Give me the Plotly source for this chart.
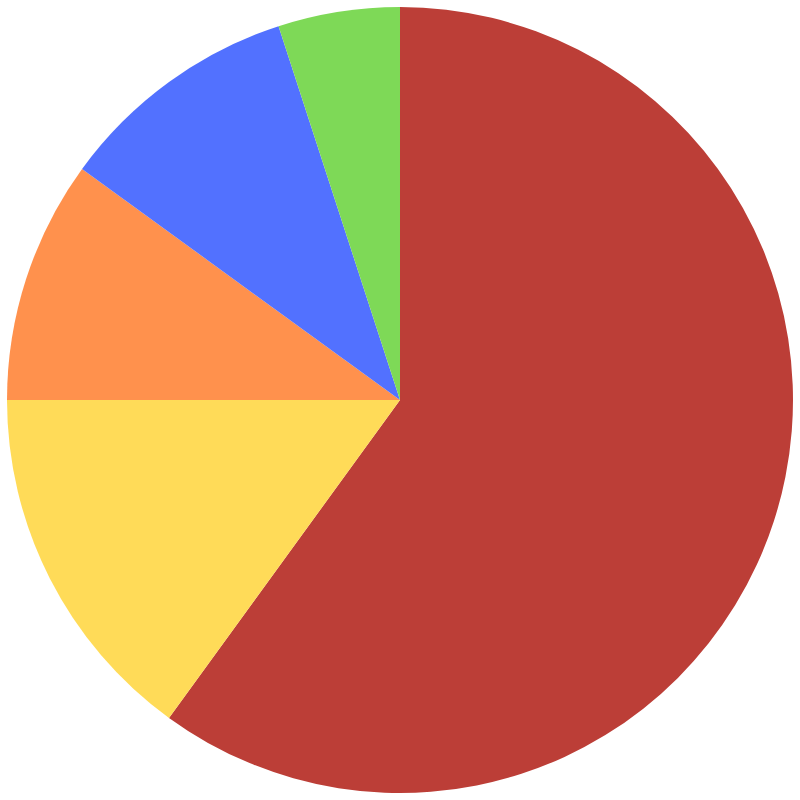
import plotly.graph_objects as go

labels = ["Red", "Yellow", "Orange", "Blue", "Green"]
values = [60, 15, 10, 10, 5]
colors = ["#BC3E37", "#FFDB58", "#FF914D", "#5271FF", "#7ED957"]

fig = go.Figure(go.Pie(
    labels=labels,
    values=values,
    marker=dict(colors=colors, line=dict(width=0)),
    sort=False,
    direction="clockwise",
    rotation=0,
    textinfo="none",
    hoverinfo="label+percent",
    showlegend=False,
))
fig.update_layout(
    width=800, height=800,
    margin=dict(l=7, r=7, t=7, b=7),
    paper_bgcolor="white",
    plot_bgcolor="white",
)
fig.write_html(
    "out.html",
    config={"displayModeBar": False},
    post_script="document.body.style.margin='0';document.body.style.overflow='hidden';",
)
